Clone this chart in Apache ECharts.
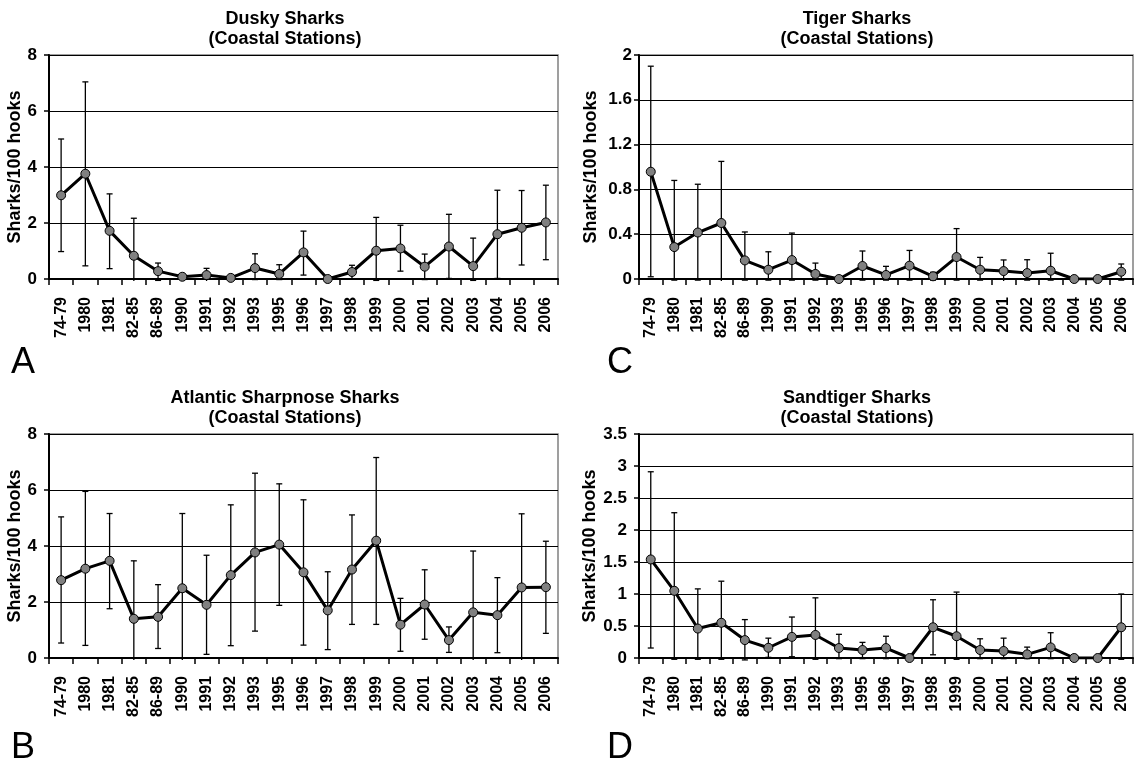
<!DOCTYPE html>
<html>
<head>
<meta charset="utf-8">
<script src="https://cdn.jsdelivr.net/npm/echarts@6/dist/echarts.min.js"></script>
<style>
html,body{margin:0;padding:0;background:#fff;}
#chart{width:1134px;height:764px;}
</style>
</head>
<body>
<div id="chart"></div>
<script>
// ---- data ----
const categories = ['74-79','1980','1981','82-85','86-89','1990','1991','1992','1993','1995','1996','1997','1998','1999','2000','2001','2002','2003','2004','2005','2006'];

const duskyMean = [2.99,3.76,1.72,0.83,0.28,0.08,0.14,0.04,0.39,0.18,0.95,0.0,0.25,1.01,1.09,0.44,1.16,0.46,1.60,1.83,2.02];
const duskyHigh = [5.00,7.04,3.04,2.17,0.57,0.18,0.38,0.06,0.90,0.51,1.71,0.0,0.49,2.20,1.92,0.89,2.31,1.46,3.17,3.16,3.35];
const duskyLow  = [0.98,0.47,0.37,-0.10,-0.05,0.0,-0.10,0.02,-0.02,-0.02,0.14,0.0,0.0,-0.05,0.28,-0.02,0.02,-0.05,0.02,0.50,0.69];

const tigerMean = [0.958,0.285,0.415,0.50,0.166,0.083,0.169,0.045,0.0,0.116,0.036,0.119,0.024,0.196,0.083,0.071,0.053,0.074,0.0,0.0,0.065];
const tigerHigh = [1.90,0.88,0.846,1.05,0.42,0.243,0.41,0.142,0.0,0.25,0.113,0.255,0.06,0.45,0.193,0.17,0.172,0.23,0.0,0.0,0.134];
const tigerLow  = [0.02,-0.01,-0.01,-0.02,-0.01,-0.01,-0.01,-0.01,0.0,-0.01,-0.01,-0.01,-0.01,-0.01,-0.01,-0.02,-0.01,-0.01,0.0,0.0,-0.01];

const sharpMean = [2.78,3.19,3.47,1.40,1.47,2.49,1.90,2.96,3.77,4.05,3.06,1.70,3.16,4.19,1.19,1.91,0.64,1.63,1.53,2.52,2.53];
const sharpHigh = [5.04,5.95,5.16,3.47,2.62,5.16,3.67,5.47,6.60,6.22,5.65,3.08,5.11,7.16,2.13,3.15,1.11,3.82,2.87,5.15,4.17];
const sharpLow  = [0.535,0.45,1.76,-0.3,0.34,-0.3,0.13,0.44,0.96,1.88,0.46,0.30,1.20,1.20,0.24,0.67,0.20,-0.3,0.19,-0.3,0.88];

const sandMean = [1.54,1.05,0.46,0.55,0.28,0.16,0.33,0.36,0.156,0.125,0.156,0.0,0.48,0.34,0.125,0.11,0.057,0.166,0.0,0.0,0.48];
const sandHigh = [2.91,2.27,1.08,1.20,0.60,0.31,0.64,0.94,0.37,0.244,0.34,0.0,0.91,1.03,0.30,0.31,0.17,0.395,0.0,0.0,1.00];
const sandLow  = [0.156,-0.02,-0.02,-0.02,-0.03,0.01,0.02,-0.02,-0.01,-0.01,-0.01,0.0,0.05,-0.02,-0.01,-0.01,-0.01,-0.01,0.0,0.0,-0.02];

const panelTitles = ['Dusky Sharks\n(Coastal Stations)','Tiger Sharks\n(Coastal Stations)','Atlantic Sharpnose Sharks\n(Coastal Stations)','Sandtiger Sharks\n(Coastal Stations)'];
const panelLetters = ['A','C','B','D'];
const yMax = [8, 2, 8, 3.5];
const yInterval = [2, 0.4, 2, 0.5];
const yAxisName = 'Sharks/100 hooks';

// ---- layout ----
const FONT = '"Liberation Sans", Arial, sans-serif';
const grids = [
  {left:49, top:55, width:509, height:224},
  {left:639, top:55, width:494, height:224},
  {left:49, top:434, width:509, height:224},
  {left:639, top:434, width:494, height:224}
];
const nameGaps = [20, 39, 20, 39];
const labelMargins = [12, 7, 12, 12];
const titleX = [285, 857, 285, 857];
const titleY = [9, 9, 388, 388];
const letterPos = [[11,345],[607,345],[11,730],[607,730]];

const means = [duskyMean, tigerMean, sharpMean, sandMean];
const highs = [duskyHigh, tigerHigh, sharpHigh, sandHigh];
const lows  = [duskyLow, tigerLow, sharpLow, sandLow];

const option = {
  backgroundColor:'#fff',
  animation:false,
  grid: grids.map(g => Object.assign({show:true, borderColor:'#808080', borderWidth:1.5, backgroundColor:'#fff'}, g)),
  xAxis: grids.map((g,i) => ({
    type:'category', gridIndex:i, data:categories, boundaryGap:true,
    axisLine:{lineStyle:{color:'#000', width:2}},
    axisTick:{show:true, interval:0, length:6, lineStyle:{color:'#000', width:1.5}},
    axisLabel:{interval:0, rotate:90, color:'#000', fontFamily:FONT, fontWeight:'bold', fontSize:16, margin:18},
    splitLine:{show:false}
  })),
  yAxis: grids.map((g,i) => ({
    type:'value', gridIndex:i, min:0, max:yMax[i], interval:yInterval[i],
    name:yAxisName, nameLocation:'middle', nameRotate:90, nameGap:nameGaps[i],
    nameTextStyle:{color:'#000', fontFamily:FONT, fontWeight:'bold', fontSize:18},
    axisLine:{show:true, lineStyle:{color:'#000', width:2}},
    axisTick:{show:true, length:5, lineStyle:{color:'#000', width:1.5}},
    axisLabel:{color:'#000', fontFamily:FONT, fontWeight:'bold', fontSize:17, margin:labelMargins[i]},
    splitLine:{show:true, lineStyle:{color:'#000', width:1}}
  })),
  graphic: [],
  series: []
};

for (let i=0;i<4;i++){
  const g = grids[i];
  option.graphic.push({
    type:'text', x:titleX[i], y:titleY[i],
    style:{text:panelTitles[i], fill:'#000', font:'bold 18px ' + FONT, textAlign:'center', textVerticalAlign:'top', lineHeight:20}
  });
  option.graphic.push({
    type:'text', x:letterPos[i][0], y:letterPos[i][1],
    style:{text:panelLetters[i], fill:'#000', font:'36px ' + FONT, textAlign:'left', textVerticalAlign:'top'}
  });
  const errData = categories.map((c,k) => [k, lows[i][k], highs[i][k]]);
  option.series.push({
    type:'custom', xAxisIndex:i, yAxisIndex:i, z:2,
    data: errData,
    renderItem: function(params, api){
      const x = api.value(0);
      const lo = api.value(1), hi = api.value(2);
      if (hi - lo <= 0) return;
      const pHi = api.coord([x, hi]);
      const pLo = api.coord([x, lo]);
      const bottom = params.coordSys.y + params.coordSys.height;
      let yLo = pLo[1];
      let clamped = false;
      if (yLo > bottom + 2) { yLo = bottom + 2; clamped = true; }
      const cx = pHi[0];
      const children = [
        {type:'line', shape:{x1:cx, y1:pHi[1], x2:cx, y2:yLo}, style:{stroke:'#000', lineWidth:1.3}},
        {type:'line', shape:{x1:cx-3, y1:pHi[1], x2:cx+3, y2:pHi[1]}, style:{stroke:'#000', lineWidth:1.3}}
      ];
      if (!clamped) children.push({type:'line', shape:{x1:cx-3, y1:yLo, x2:cx+3, y2:yLo}, style:{stroke:'#000', lineWidth:1.3}});
      return {type:'group', children:children};
    }
  });
  option.series.push({
    type:'line', xAxisIndex:i, yAxisIndex:i, z:3,
    data: means[i],
    symbol:'circle', symbolSize:9,
    lineStyle:{color:'#000', width:3},
    itemStyle:{color:'#808080', borderColor:'#000', borderWidth:1},
    emphasis:{disabled:true}
  });
}

const chart = echarts.init(document.getElementById('chart'), null, {renderer:'canvas'});
chart.setOption(option);
</script>
</body>
</html>
